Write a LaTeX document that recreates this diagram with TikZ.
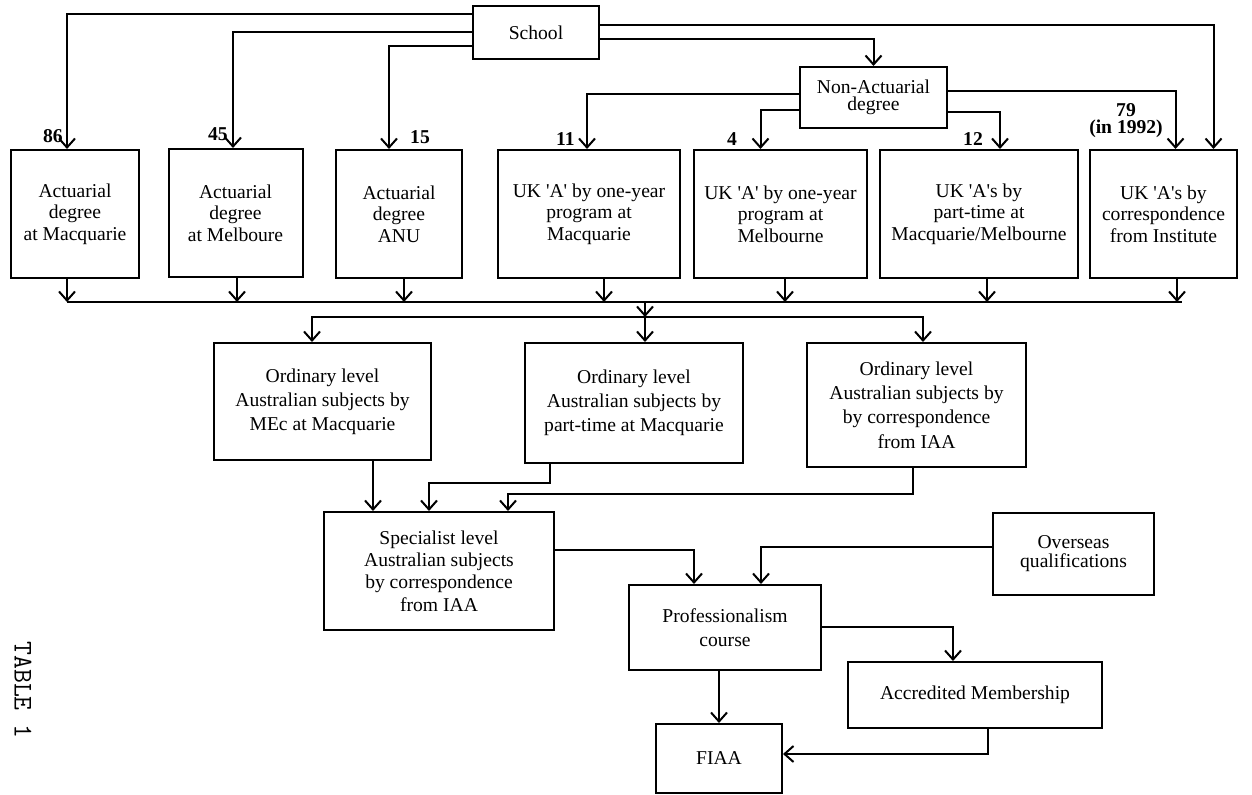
\documentclass[tikz,border=0pt]{standalone}
\usepackage{fontspec}
\setmainfont{Liberation Serif}
\usetikzlibrary{arrows.meta}

\tikzset{
  box/.style={draw, line width=1pt, align=center, inner sep=1pt,
    font=\fontsize{9.8}{10.8}\selectfont},
  num/.style={inner sep=0pt, align=center, font=\fontsize{9.8}{8.6}\selectfont\bfseries},
  wire/.style={line width=1pt},
  arr/.style={line width=1pt, -{Straight Barb[length=4.5pt,width=8pt,line width=1pt]}},
}
\newcommand{\qA}{\textquotesingle A\textquotesingle}

\begin{document}
\begin{tikzpicture}[x=0.5pt,y=-0.5pt]
\useasboundingbox (0,0) rectangle (1252,795);

      \begin{scope}[every node/.style={box}]
        \node[minimum width=63pt,minimum height=26.5pt] (school) at (536,32.5) {School};
        \node[minimum width=73.5pt,minimum height=30.5pt,
              font=\fontsize{9.8}{8.5}\selectfont] (nad) at (873.5,97.5) {Non-Actuarial\\degree};

        \node[minimum width=64pt,minimum height=64pt]   (a1) at (75,214)    {Actuarial\\degree\\at Macquarie};
        \node[minimum width=67pt,minimum height=64pt]   (a2) at (235.5,213) {Actuarial\\degree\\at Melboure};
        \node[minimum width=63pt,minimum height=64pt]   (a3) at (399,214)   {Actuarial\\degree\\ANU};
        \node[minimum width=91pt,minimum height=64pt]   (a4) at (589,214)   {UK \qA{} by one-year\\program at\\Macquarie};
        \node[minimum width=86.5pt,minimum height=64pt] (a5) at (780.5,214) {UK \qA{} by one-year\\program at\\Melbourne};
        \node[minimum width=99pt,minimum height=64pt]   (a6) at (979,214)   {UK \qA s by\\part-time at\\Macquarie/Melbourne};
        \node[minimum width=73.5pt,minimum height=64pt] (a7) at (1163.5,214) {UK \qA s by\\correspondence\\from Institute};

        \node[minimum width=108.5pt,minimum height=58.5pt,
              font=\fontsize{9.8}{12}\selectfont] (o1) at (322.5,401.5) {Ordinary level\\Australian subjects by\\MEc at Macquarie};
        \node[minimum width=109pt,minimum height=60pt,
              font=\fontsize{9.8}{12}\selectfont] (o2) at (634,403) {Ordinary level\\Australian subjects by\\part-time at Macquarie};
        \node[minimum width=109.5pt,minimum height=62pt,
              font=\fontsize{9.8}{12.2}\selectfont] (o3) at (916.5,405) {Ordinary level\\Australian subjects by\\by correspondence\\from IAA};

        \node[minimum width=115pt,minimum height=59pt,
              font=\fontsize{9.8}{11.2}\selectfont] (spec) at (439,571) {Specialist level\\Australian subjects\\by correspondence\\from IAA};
        \node[minimum width=80.5pt,minimum height=41pt,
              font=\fontsize{9.8}{9.5}\selectfont] (over) at (1073.5,554) {Overseas\\qualifications};
        \node[minimum width=96pt,minimum height=42.5pt,
              font=\fontsize{9.8}{12}\selectfont] (prof) at (725,627.5) {Professionalism\\course};
        \node[minimum width=127pt,minimum height=33pt] (accr) at (975,695) {Accredited Membership};
        \node[minimum width=63pt,minimum height=34.5pt] (fiaa) at (719,758.5) {FIAA};
      \end{scope}

      \begin{scope}[every node/.style={num}]
        \node[anchor=east] (n86) at (63,136)  {86};
        \node[anchor=east] (n45) at (228,134) {45};
        \node (n15) at (420,137) {15};
        \node[anchor=east] (n11) at (575,139) {11};
        \node (n4)  at (732,139) {4};
        \node (n12) at (973,139) {12};
        \node (n79) at (1126,121) {79\\(in 1992)};
      \end{scope}

      \node[rotate=-90,font=\ttfamily\fontsize{13.5}{13.5}\selectfont] (tab) at (23,690) {TABLE 1};

      % school and non-actuarial degree
      \draw[arr] ([yshift=9.25pt]school.west) -| ([xshift=-4pt]a1.north);
      \draw[arr] ([yshift=0.25pt]school.west) -| ([xshift=-1.25pt]a2.north);
      \draw[arr] ([yshift=-6.75pt]school.west) -| ([xshift=-5pt]a3.north);
      \draw[arr] ([yshift=3.75pt]school.east) -| ([xshift=25pt]a7.north);
      \draw[arr] ([yshift=-3.25pt]school.east) -| (nad.north);
      \draw[arr] ([yshift=1.75pt]nad.west) -| ([xshift=-1pt]a4.north);
      \draw[arr] ([yshift=-6.25pt]nad.west) -| ([xshift=-10pt]a5.north);
      \draw[arr] ([yshift=3.25pt]nad.east) -| ([xshift=6pt]a7.north);
      \draw[arr] ([yshift=-7.25pt]nad.east) -| ([xshift=10.5pt]a6.north);

      % collecting line
      \coordinate (bus1) at (67,302);
      \coordinate (bus2) at (1182,302);
      \draw[wire] (bus1) -- (bus2);
      \draw[arr] ([xshift=-4pt]a1.south) -- ([xshift=-4pt]a1.south |- bus1);
      \draw[arr] ([xshift=0.75pt]a2.south) -- ([xshift=0.75pt]a2.south |- bus1);
      \draw[arr] ([xshift=2.5pt]a3.south) -- ([xshift=2.5pt]a3.south |- bus1);
      \draw[arr] ([xshift=7.5pt]a4.south) -- ([xshift=7.5pt]a4.south |- bus1);
      \draw[arr] ([xshift=2.25pt]a5.south) -- ([xshift=2.25pt]a5.south |- bus1);
      \draw[arr] ([xshift=4pt]a6.south) -- ([xshift=4pt]a6.south |- bus1);
      \draw[arr] ([xshift=6.75pt]a7.south) -- ([xshift=6.75pt]a7.south |- bus1);

      % ordinary level
      \coordinate (jn1) at (645,302);
      \coordinate (jn2) at (645,317);
      \draw[arr] (jn1) -- (jn2);
      \draw[arr] (jn2) -- (jn2 |- o2.north);
      \draw[arr] (jn2) -| ([xshift=-5.25pt]o1.north);
      \draw[arr] (jn2) -| ([xshift=3.25pt]o3.north);

      % specialist level and after
      \draw[arr] ([xshift=25.25pt]o1.south) -- ([xshift=25.25pt]o1.south |- spec.north);
      \draw[arr] ([xshift=-42pt]o2.south) -- ++(0,19) -| ([xshift=-5pt]spec.north);
      \draw[arr] ([xshift=-1.75pt]o3.south) -- ++(0,26) -| ([xshift=34.5pt]spec.north);
      \draw[arr] ([yshift=10.5pt]spec.east) -| ([xshift=-15.5pt]prof.north);
      \draw[arr] ([yshift=3.5pt]over.west) -| ([xshift=18pt]prof.north);
      \draw[arr] (prof.east) -| ([xshift=-11pt]accr.north);
      \draw[arr] (prof.south -| fiaa.north) -- (fiaa.north);
      \draw[arr] ([xshift=6.5pt]accr.south) |- ([yshift=2.25pt]fiaa.east);

\end{tikzpicture}
\end{document}
